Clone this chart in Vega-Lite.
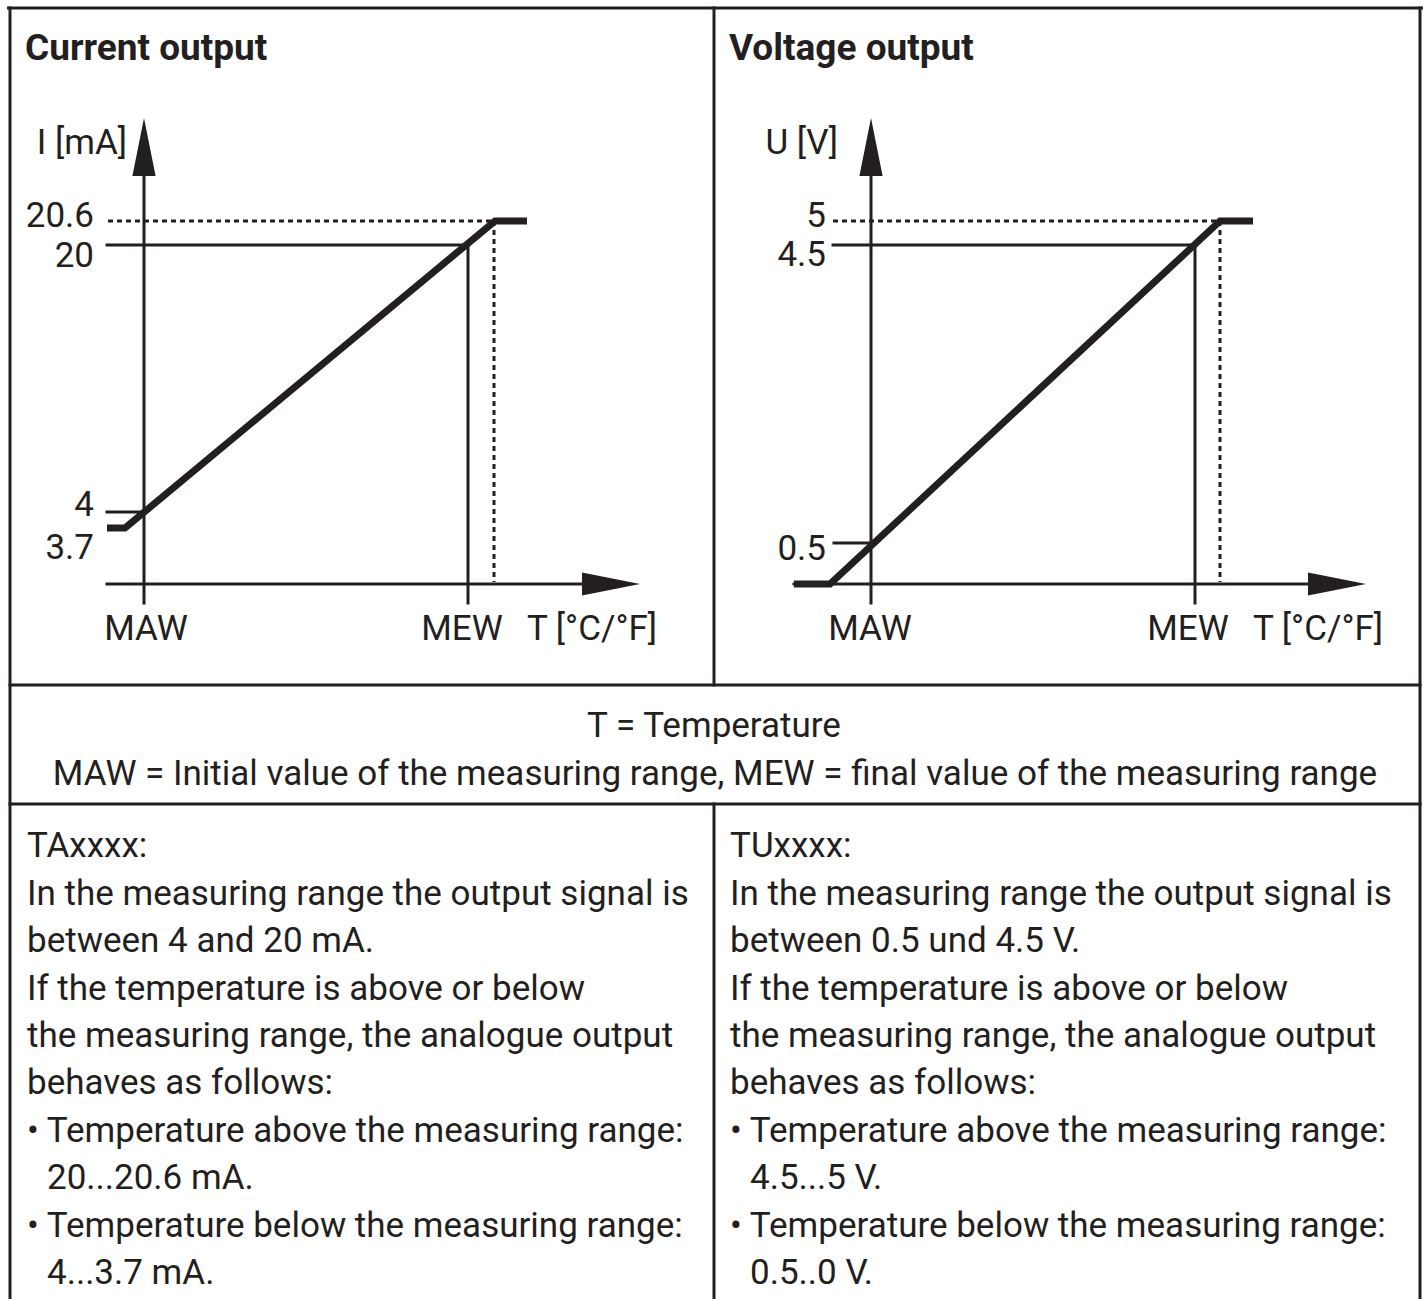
{
  "$schema": "https://vega.github.io/schema/vega-lite/v6.json",
  "width": 1424,
  "height": 1299,
  "autosize": "none",
  "padding": 0,
  "background": "white",
  "config": {"view": {"stroke": null}},
  "datasets": {
    "lines": [
      {"part": "frame", "x": 8.5, "y": 8, "x2": 1421.5, "y2": 8},
      {"part": "frame", "x": 10, "y": 8, "x2": 10, "y2": 1299},
      {"part": "frame", "x": 1420, "y": 8, "x2": 1420, "y2": 1299},
      {"part": "frame", "x": 714, "y": 8, "x2": 714, "y2": 685},
      {"part": "frame", "x": 714, "y": 804, "x2": 714, "y2": 1299},
      {"part": "frame", "x": 10, "y": 685, "x2": 1420, "y2": 685},
      {"part": "frame", "x": 10, "y": 804, "x2": 1420, "y2": 804},
      {"part": "axis I", "x": 144, "y": 150, "x2": 144, "y2": 603},
      {"part": "axis T left", "x": 107, "y": 584, "x2": 600, "y2": 584},
      {"part": "axis U", "x": 871, "y": 150, "x2": 871, "y2": 603},
      {"part": "axis T right", "x": 794, "y": 584, "x2": 1325, "y2": 584},
      {"part": "20 mA", "x": 107, "y": 245, "x2": 468, "y2": 245},
      {"part": "MEW left", "x": 468, "y": 245, "x2": 468, "y2": 603},
      {"part": "4 mA", "x": 107, "y": 512, "x2": 144, "y2": 512},
      {"part": "4.5 V", "x": 833, "y": 245, "x2": 1195, "y2": 245},
      {"part": "MEW right", "x": 1195, "y": 245, "x2": 1195, "y2": 603},
      {"part": "0.5 V", "x": 834, "y": 543, "x2": 871, "y2": 543}
    ],
    "dotted": [
      {"part": "20.6 mA", "x": 108, "y": 221, "x2": 495, "y2": 221},
      {"part": "20.6 mA drop", "x": 494, "y": 221, "x2": 494, "y2": 582},
      {"part": "5 V", "x": 833, "y": 221, "x2": 1220, "y2": 221},
      {"part": "5 V drop", "x": 1220, "y": 221, "x2": 1220, "y2": 582}
    ],
    "curve": [
      {"panel": "current", "seq": 1, "x": 107, "y": 528},
      {"panel": "current", "seq": 2, "x": 125, "y": 528},
      {"panel": "current", "seq": 3, "x": 495, "y": 221},
      {"panel": "current", "seq": 4, "x": 527, "y": 221},
      {"panel": "voltage", "seq": 1, "x": 794, "y": 584},
      {"panel": "voltage", "seq": 2, "x": 830, "y": 584},
      {"panel": "voltage", "seq": 3, "x": 1220, "y": 221},
      {"panel": "voltage", "seq": 4, "x": 1253, "y": 221}
    ],
    "arrows": [
      {"dir": "up", "x": 144, "y": 147},
      {"dir": "up", "x": 871, "y": 147},
      {"dir": "right", "x": 611, "y": 584},
      {"dir": "right", "x": 1337, "y": 584}
    ],
    "titles": [
      {"x": 25, "y": 60, "text": "Current output"},
      {"x": 729, "y": 60, "text": "Voltage output"}
    ],
    "rightlabels": [
      {"x": 127, "y": 154, "text": "I [mA]"},
      {"x": 838, "y": 154, "text": "U [V]"},
      {"x": 94, "y": 227, "text": "20.6"},
      {"x": 94, "y": 267, "text": "20"},
      {"x": 94, "y": 516, "text": "4"},
      {"x": 94, "y": 559, "text": "3.7"},
      {"x": 826, "y": 227, "text": "5"},
      {"x": 826, "y": 266, "text": "4.5"},
      {"x": 826, "y": 560, "text": "0.5"}
    ],
    "centerlabels": [
      {"x": 146, "y": 640, "text": "MAW"},
      {"x": 462, "y": 640, "text": "MEW"},
      {"x": 592, "y": 640, "text": "T [°C/°F]"},
      {"x": 870, "y": 640, "text": "MAW"},
      {"x": 1188, "y": 640, "text": "MEW"},
      {"x": 1318, "y": 640, "text": "T [°C/°F]"},
      {"x": 714, "y": 737, "text": "T = Temperature"},
      {"x": 715, "y": 785, "text": "MAW = Initial value of the measuring range, MEW = final value of the measuring range"}
    ],
    "body": [
      {"x": 27, "y": 857, "text": "TAxxxx:"},
      {"x": 27, "y": 905, "text": "In the measuring range the output signal is"},
      {"x": 27, "y": 952, "text": "between 4 and 20 mA."},
      {"x": 27, "y": 1000, "text": "If the temperature is above or below"},
      {"x": 27, "y": 1047, "text": "the measuring range, the analogue output"},
      {"x": 27, "y": 1094, "text": "behaves as follows:"},
      {"x": 27, "y": 1142, "text": "• Temperature above the measuring range:"},
      {"x": 47, "y": 1189, "text": "20...20.6 mA."},
      {"x": 27, "y": 1237, "text": "• Temperature below the measuring range:"},
      {"x": 47, "y": 1284, "text": "4...3.7 mA."},
      {"x": 730, "y": 857, "text": "TUxxxx:"},
      {"x": 730, "y": 905, "text": "In the measuring range the output signal is"},
      {"x": 730, "y": 952, "text": "between 0.5 und 4.5 V."},
      {"x": 730, "y": 1000, "text": "If the temperature is above or below"},
      {"x": 730, "y": 1047, "text": "the measuring range, the analogue output"},
      {"x": 730, "y": 1094, "text": "behaves as follows:"},
      {"x": 730, "y": 1142, "text": "• Temperature above the measuring range:"},
      {"x": 750, "y": 1189, "text": "4.5...5 V."},
      {"x": 730, "y": 1237, "text": "• Temperature below the measuring range:"},
      {"x": 750, "y": 1284, "text": "0.5..0 V."}
    ]
  },
  "encoding": {
    "x": {"field": "x", "type": "quantitative", "scale": {"domain": [0, 1424], "nice": false, "zero": false}, "axis": null},
    "y": {"field": "y", "type": "quantitative", "scale": {"domain": [0, 1299], "nice": false, "zero": false, "reverse": true}, "axis": null}
  },
  "layer": [
    {
      "data": {"name": "lines"},
      "mark": {"type": "rule", "color": "#231f20", "strokeWidth": 3, "strokeCap": "square"},
      "encoding": {"x2": {"field": "x2"}, "y2": {"field": "y2"}}
    },
    {
      "data": {"name": "dotted"},
      "mark": {"type": "rule", "color": "#231f20", "strokeWidth": 3, "strokeDash": [5, 4]},
      "encoding": {"x2": {"field": "x2"}, "y2": {"field": "y2"}}
    },
    {
      "data": {"name": "curve"},
      "mark": {"type": "line", "color": "#231f20", "strokeWidth": 7, "strokeJoin": "miter", "strokeCap": "butt"},
      "encoding": {"detail": {"field": "panel"}, "order": {"field": "seq"}}
    },
    {
      "data": {"name": "arrows"},
      "transform": [{"filter": "datum.dir === 'up'"}],
      "mark": {"type": "point", "shape": "M0,-1L0.4,1L-0.4,1Z", "size": 3364, "filled": true, "color": "#231f20", "opacity": 1, "strokeWidth": 0}
    },
    {
      "data": {"name": "arrows"},
      "transform": [{"filter": "datum.dir === 'right'"}],
      "mark": {"type": "point", "shape": "M1,0L-1,-0.4L-1,0.4Z", "size": 3364, "filled": true, "color": "#231f20", "opacity": 1, "strokeWidth": 0}
    },
    {
      "data": {"name": "titles"},
      "mark": {"type": "text", "align": "left", "baseline": "alphabetic", "font": "Roboto", "fontSize": 37, "fontWeight": "bold", "color": "#231f20"},
      "encoding": {"text": {"field": "text"}}
    },
    {
      "data": {"name": "rightlabels"},
      "mark": {"type": "text", "align": "right", "baseline": "alphabetic", "font": "Roboto", "fontSize": 35, "color": "#231f20"},
      "encoding": {"text": {"field": "text"}}
    },
    {
      "data": {"name": "centerlabels"},
      "mark": {"type": "text", "align": "center", "baseline": "alphabetic", "font": "Roboto", "fontSize": 35, "color": "#231f20"},
      "encoding": {"text": {"field": "text"}}
    },
    {
      "data": {"name": "body"},
      "mark": {"type": "text", "align": "left", "baseline": "alphabetic", "font": "Roboto", "fontSize": 35, "color": "#231f20"},
      "encoding": {"text": {"field": "text"}}
    }
  ]
}
